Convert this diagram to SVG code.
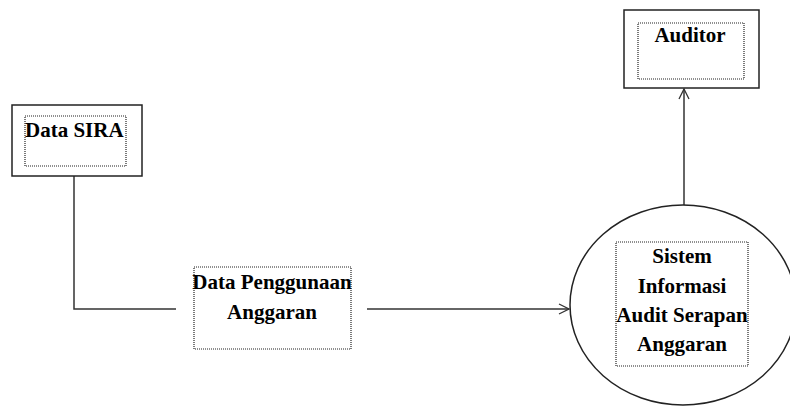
<svg xmlns="http://www.w3.org/2000/svg" width="790" height="406" viewBox="0 0 790 406">
<defs>
<style>
.box{fill:#fff;stroke:#222;stroke-width:1.5}
.dot{fill:none;stroke:#222;stroke-width:1.2;stroke-dasharray:1 1}
.t{font-family:"Liberation Serif","Times New Roman",serif;font-weight:bold;font-size:21px;fill:#000}
.c{text-anchor:middle}
.ln{fill:none;stroke:#333;stroke-width:1.5}
</style>
<marker id="arr" viewBox="0 0 12 12" refX="11" refY="6" markerWidth="12" markerHeight="12" markerUnits="userSpaceOnUse" orient="auto">
<path d="M1,1 L11,6 L1,11" fill="none" stroke="#333" stroke-width="1.3"/>
</marker>
</defs>
<rect width="790" height="406" fill="#fff"/>
<g id="connectors">
<path class="ln" d="M74,176 V309 H176"/>
<path class="ln" d="M367,309 H569" marker-end="url(#arr)"/>
<path class="ln" d="M684,205 V89" marker-end="url(#arr)"/>
</g>
<g id="data-sira">
<rect class="box" x="12" y="105" width="130" height="71"/>
<rect class="dot" x="25" y="116" width="101" height="50"/>
<text class="t" x="25" y="137">Data SIRA</text>
</g>
<g id="auditor">
<rect class="box" x="624" y="10" width="135" height="78"/>
<rect class="dot" x="638" y="23" width="106" height="56"/>
<text class="t c" x="690" y="42">Auditor</text>
</g>
<g id="data-penggunaan">
<rect class="dot" x="194" y="267" width="157" height="82"/>
<text class="t c" x="272" y="289">Data Penggunaan</text>
<text class="t c" x="272" y="319">Anggaran</text>
</g>
<g id="sistem">
<ellipse class="box" cx="683" cy="305" rx="113" ry="100"/>
<rect class="dot" x="616" y="242" width="132" height="124"/>
<text class="t c" x="682" y="263">Sistem</text>
<text class="t c" x="682" y="293">Informasi</text>
<text class="t c" x="682" y="322">Audit Serapan</text>
<text class="t c" x="682" y="351">Anggaran</text>
</g>
</svg>
